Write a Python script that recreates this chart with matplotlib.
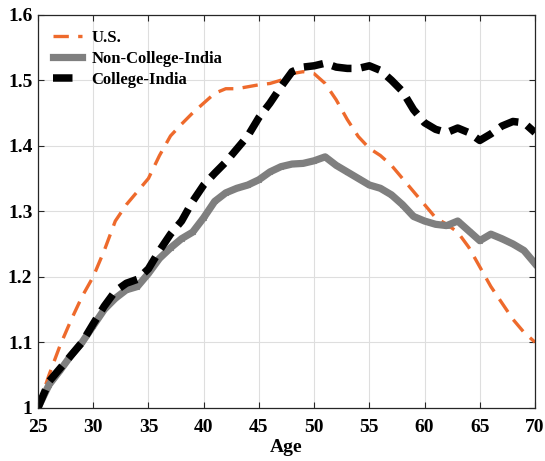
import numpy as np
import matplotlib.pyplot as plt

# Edad y perfiles de ingreso relativos (normalizados a 1 a los 25 años)
age = np.arange(25, 71)

us = [1.00, 1.05, 1.095, 1.134, 1.17, 1.20, 1.24, 1.285, 1.31, 1.33,
      1.35, 1.385, 1.415, 1.433, 1.45, 1.465, 1.48, 1.487, 1.487, 1.49,
      1.493, 1.495, 1.50, 1.51, 1.513, 1.51, 1.495, 1.47, 1.44, 1.414,
      1.396, 1.385, 1.37, 1.35, 1.33, 1.31, 1.29, 1.28, 1.268, 1.245,
      1.215, 1.185, 1.16, 1.135, 1.115, 1.10]

non_college = [1.00, 1.035, 1.057, 1.08, 1.10, 1.125, 1.15, 1.167, 1.18, 1.185,
               1.205, 1.228, 1.244, 1.258, 1.268, 1.29, 1.315, 1.328, 1.335, 1.34,
               1.348, 1.36, 1.368, 1.372, 1.373, 1.377, 1.383, 1.37, 1.36, 1.35,
               1.34, 1.335, 1.325, 1.31, 1.292, 1.285, 1.28, 1.278, 1.285, 1.27,
               1.255, 1.265, 1.258, 1.25, 1.24, 1.22]

college = [1.00, 1.04, 1.06, 1.08, 1.10, 1.128, 1.155, 1.178, 1.19, 1.196,
           1.212, 1.24, 1.265, 1.285, 1.315, 1.34, 1.358, 1.375, 1.395, 1.415,
           1.443, 1.465, 1.49, 1.513, 1.52, 1.522, 1.526, 1.52, 1.518, 1.518,
           1.522, 1.515, 1.50, 1.483, 1.455, 1.435, 1.425, 1.42, 1.427, 1.42,
           1.408, 1.418, 1.43, 1.437, 1.435, 1.42]

plt.rcParams["font.family"] = "Liberation Serif"
plt.rcParams["font.weight"] = "bold"

fig = plt.figure(figsize=(5.45, 4.61), dpi=100)
ax = fig.add_axes([0.0697, 0.1156, 0.912, 0.8525])

ax.plot(age, us, color="#EE6A2C", lw=2.4, dashes=(4.6, 2.8), label="U.S.")
ax.plot(age, non_college, color="#7F7F7F", lw=5.2, marker="*", ms=4,
        label="Non-College-India")
ax.plot(age, college, color="black", lw=5.4, dashes=(2.6, 1.3),
        label="College-India")

ax.set_xlim(25, 70)
ax.set_ylim(1.0, 1.6)
ax.set_xticks(np.arange(25, 71, 5))
ax.set_yticks(np.arange(1.0, 1.61, 0.1))
ax.set_yticklabels(["1", "1.1", "1.2", "1.3", "1.4", "1.5", "1.6"])
ax.tick_params(direction="in", top=True, right=True, labelsize=14,
               length=4, width=0.8, color="#262626")
ax.tick_params(axis="x", pad=8)
ax.tick_params(axis="y", pad=4)
ax.grid(True, color="#DEDEDE", lw=0.8)
ax.set_axisbelow(True)
for s in ax.spines.values():
    s.set_color("#262626")
    s.set_linewidth(0.9)

ax.set_xlabel("Age", fontsize=14, fontweight="bold", labelpad=2)

ax.legend(loc="upper left", frameon=False, handlelength=1.75,
          handletextpad=0.55, borderaxespad=0.5, labelspacing=0.3,
          prop={"weight": "bold", "size": 12})

fig.savefig("out.png", dpi=100)
